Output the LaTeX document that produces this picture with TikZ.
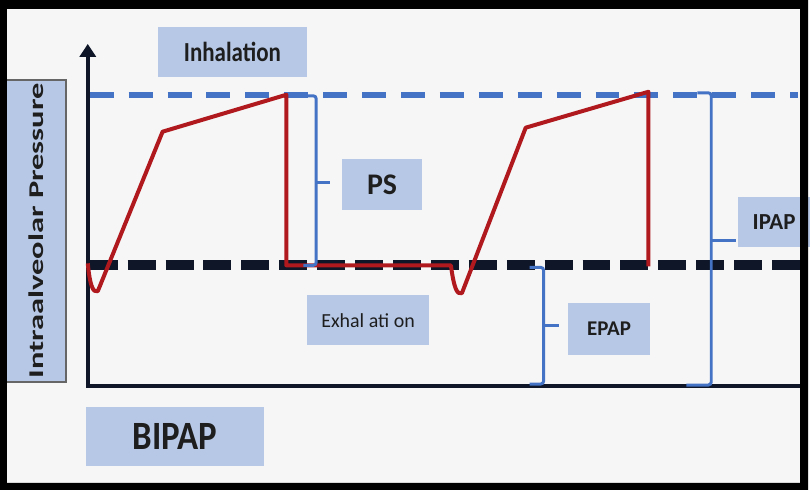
\documentclass[tikz,border=0pt]{standalone}
\usepackage{fontspec}
\setmainfont{Carlito}
\usetikzlibrary{arrows.meta}
\definecolor{bgcol}{HTML}{F6F6F6}
\definecolor{boxcol}{HTML}{B7C8E6}
\definecolor{ipapblue}{HTML}{4472C4}
\definecolor{curvered}{HTML}{B0191E}
\definecolor{axisnavy}{HTML}{0E1628}
\definecolor{txtcol}{HTML}{1E1E1E}

\tikzset{
  lblbox/.style={fill=boxcol,text=txtcol,inner sep=0pt},
  bracket/.style={ipapblue,line width=3pt,rounded corners=3pt},
  levelline/.style={line width=#1}
}

\begin{document}
\begin{tikzpicture}[x=1pt,y=-1pt]
  \fill[bgcol] (0,0) rectangle (810,491);

  % boxes
  \node[lblbox,minimum width=150,minimum height=41.7,yscale=1.2,font=\bfseries\fontsize{23}{23}\selectfont] (inh) at (233,52) {Inhalation};
  \node[lblbox,draw=gray!80!black,line width=2pt,minimum width=303,minimum height=60,rotate=90] (ylab) at (36,231.5) {};
  \node[text=txtcol,rotate=90,xscale=1.55,font=\bfseries\fontsize{21}{21}\selectfont] at (ylab.center) {Intraalveolar Pressure};
  \node[lblbox,minimum width=80,minimum height=52,font=\bfseries\fontsize{30}{30}\selectfont] (ps) at (383,185) {PS};
  \node[lblbox,minimum width=122,minimum height=50,font=\fontsize{20}{20}\selectfont] (exh) at (369,321) {Exhal ati on};
  \node[lblbox,minimum width=83,minimum height=52,font=\bfseries\fontsize{21}{21}\selectfont] (epap) at (610.5,330) {EPAP};
  \node[lblbox,minimum width=72,minimum height=51,font=\bfseries\fontsize{23}{23}\selectfont] (ipap) at (776,222.5) {IPAP};
  \node[lblbox,minimum width=179,minimum height=51.3,yscale=1.15,font=\bfseries\fontsize{35}{35}\selectfont] (bipap) at (175.5,437.5) {BIPAP};

  % levels
  \draw[ipapblue,levelline=6pt,dash pattern=on 24pt off 15pt] (90,95) -- (800,95);
  \draw[axisnavy,levelline=10pt,dash pattern=on 28pt off 10pt] (90,266) -- (805,266);

  % axes
  \draw[axisnavy,line width=4pt,{Triangle[width=16pt,length=13pt]}-] (88,44) -- (88,387) -- (805,387);

  % pressure curve
  \draw[curvered,line width=4pt,line join=round]
    (88,264) .. controls (90,285) and (93,294) .. (98,292) -- (163,132) -- (287,95) -- (287,266)
    -- (452,266) .. controls (455,288) and (458,296) .. (463,294) -- (527,128) -- (650,92) -- (650,267);

  % brackets
  \coordinate (pstick) at (331,183);
  \coordinate (epaptick) at (560,326);
  \coordinate (ipaptick) at (738,241);
  \draw[bracket] (304,96) -- (317,96) -- (317,266) -- (304,266);
  \draw[bracket] (317,183) -- (pstick);
  \draw[bracket] (531,268) -- (545,268) -- (545,385) -- (531,385);
  \draw[bracket] (545,326) -- (epaptick);
  \draw[bracket] (699,93) -- (713,93) -- (713,386) -- (688,386);
  \draw[bracket] (713,241) -- (ipaptick);

  % frame
  \fill[black,even odd rule] (0,0) rectangle (810,491) (7,9) rectangle (802,484);
\end{tikzpicture}
\end{document}
